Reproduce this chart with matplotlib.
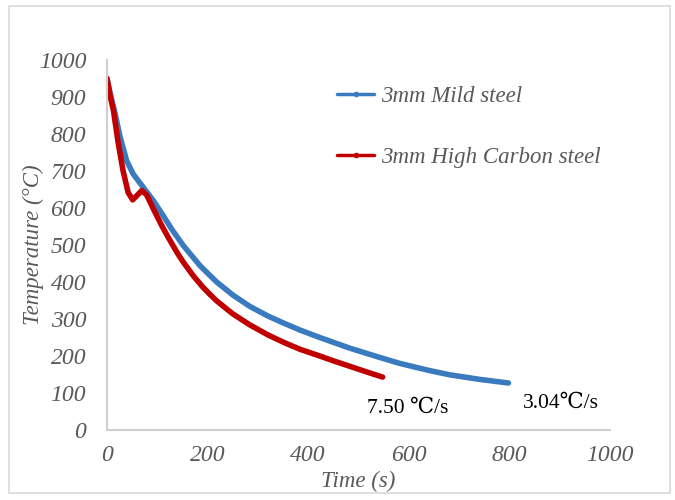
import matplotlib

matplotlib.use("Agg")
import matplotlib.pyplot as plt
from matplotlib.patches import Rectangle

# Cooling curves, time (s) vs temperature (degC)
mild_time = [0, 8, 16, 26, 39, 52, 72, 92, 110, 130, 152, 185, 218, 250, 284, 320, 351,
             384, 423, 483, 540, 582, 640, 682, 740, 798]
mild_temp = [950, 900, 856, 792, 728, 692, 656, 620, 583, 540, 498, 444, 400, 365, 334, 308, 289,
             270, 250, 221, 197, 180, 161, 149, 137, 127]

hc_time = [0, 6, 13, 22, 32, 42, 51, 59, 69, 79, 92, 109, 122, 140, 152, 172, 190, 205, 218, 250, 284,
           320, 351, 384, 423, 450, 516, 548]
hc_temp = [950, 905, 862, 778, 700, 642, 622, 633, 647, 635, 598, 552, 520, 478, 453, 416, 387, 366, 349, 314, 284,
           257, 237, 218, 200, 187, 157, 143]

series_labels = ["3mm Mild steel", "3mm High Carbon steel"]
rate_labels = ["7.50 \u2103/s", "3.04\u2103/s"]
rate_pos = [(516, 59), (827, 73)]

x_ticks = [0, 200, 400, 600, 800, 1000]
y_ticks = list(range(0, 1001, 100))

SERIF = ["Liberation Serif", "DejaVu Serif"]
GREY = "#595959"
BLUE = "#3a7bc0"
RED = "#c00000"

fig = plt.figure(figsize=(6.75, 5), dpi=100)
ax = fig.add_axes([107 / 675, 1 - 430 / 500, (610 - 107) / 675, (430 - 60) / 500])

ax.plot(mild_time, mild_temp, color=BLUE, lw=4, solid_capstyle="round", solid_joinstyle="round",
        label=series_labels[0])
ax.plot(hc_time, hc_temp, color=RED, lw=4, solid_capstyle="round", solid_joinstyle="round",
        label=series_labels[1])

ax.set_xlim(0, 1000)
ax.set_ylim(0, 1000)
ax.set_xticks(x_ticks)
ax.set_yticks(y_ticks)
ax.tick_params(axis="y", length=0, pad=15, labelcolor=GREY)
ax.tick_params(axis="x", length=0, pad=11, labelcolor=GREY)
for lab in ax.get_xticklabels() + ax.get_yticklabels():
    lab.set_fontfamily(SERIF)
    lab.set_fontstyle("italic")
    lab.set_fontsize(17)

for side in ("top", "right"):
    ax.spines[side].set_visible(False)
for side in ("left", "bottom"):
    ax.spines[side].set_color("#d0d0d0")
    ax.spines[side].set_linewidth(1.5)

ax.set_xlabel("Time (s)", family=SERIF, style="italic", fontsize=16.5, color=GREY, labelpad=3)
ax.set_ylabel("Temperature (\u00b0C)", family=SERIF, style="italic", fontsize=16.5, color=GREY, labelpad=-4)

for text, (tx, ty) in zip(rate_labels, rate_pos):
    ax.text(tx, ty, text, family=SERIF, fontsize=15.5, color="black", ha="left", va="center")

leg = ax.legend(
    loc="upper left",
    bbox_to_anchor=(0.417, 0.986),
    frameon=False,
    handlelength=1.6,
    handletextpad=0.3,
    labelspacing=1.75,
    prop={"family": SERIF, "style": "italic", "size": 16.5},
)
for h in leg.get_lines():
    h.set_linewidth(2.5)
    h.set_marker("o")
    h.set_markersize(3)
for t in leg.get_texts():
    t.set_color(GREY)

# outer chart border
fig.patches.append(
    Rectangle((9 / 675, 1 - 493 / 500), 661 / 675, 487 / 500,
              transform=fig.transFigure, fill=False, edgecolor="#d9d9d9", lw=1.2)
)

fig.savefig("out.png", dpi=100)
